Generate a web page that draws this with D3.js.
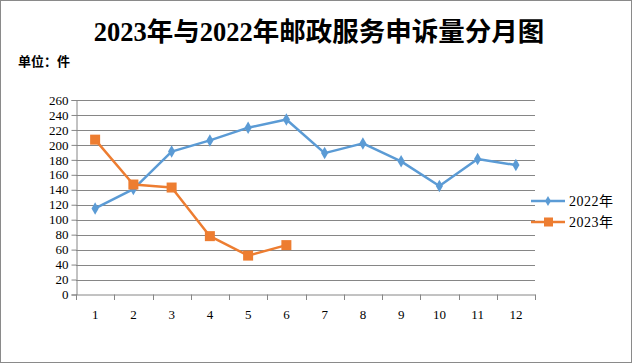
<!DOCTYPE html>
<html><head><meta charset="utf-8">
<script src="https://cdn.jsdelivr.net/npm/d3@7"></script>
<style>body{margin:0;background:#fff}</style>
</head><body>
<svg id="c" width="633" height="364"></svg>
<script>
const months = ["1","2","3","4","5","6","7","8","9","10","11","12"];
const values2022 = [115,141,191,206,223,234,189,202,178,145,181,173];
const values2023 = [207,147,143,78,52,66];
const yTicks = [0,20,40,60,80,100,120,140,160,180,200,220,240,260];
const seriesNames = ["2022年","2023年"];
const colors = ["#5B9BD5","#ED7D31"];

const svg = d3.select("#c");
const serif = "'Liberation Serif','Times New Roman','Noto Sans CJK SC',serif";
svg.append("rect").attr("x",0.5).attr("y",0.5).attr("width",631).attr("height",362)
  .attr("fill","#fff").attr("stroke","#8a8a8a");

svg.append("text").attr("x",319).attr("y",41).attr("text-anchor","middle")
  .attr("font-family",serif).attr("font-weight","bold").attr("font-size",26.5).text("2023年与2022年邮政服务申诉量分月图");
svg.append("text").attr("x",18).attr("y",66)
  .attr("font-family",serif).attr("font-weight","bold").attr("font-size",13).text("单位：件");

const x = d3.scaleBand().domain(months).range([76,535]);
const y = d3.scaleLinear().domain([0,260]).range([294.5,100]);

// gridlines
svg.append("g").selectAll("line").data(yTicks.slice(1)).join("line")
  .attr("x1",76).attr("x2",535).attr("y1",d=>Math.round(y(d))+0.5).attr("y2",d=>Math.round(y(d))+0.5)
  .attr("stroke","#868686").attr("stroke-width",1);

// y axis
const ya = svg.append("g").attr("transform","translate(76.5,0)")
  .call(d3.axisLeft(y).tickValues(yTicks).tickSize(5).tickPadding(3));
ya.select(".domain").attr("stroke","#868686");
ya.selectAll(".tick line").attr("stroke","#868686");
ya.selectAll("text").attr("font-family",serif).attr("font-size",13).attr("fill","#000");

// x axis
const xa = svg.append("g").attr("transform","translate(0,294.5)")
  .call(d3.axisBottom(x).tickSize(0).tickPadding(15));
xa.select(".domain").attr("stroke","#868686");
xa.selectAll("text").attr("font-family",serif).attr("font-size",13).attr("fill","#000");
svg.append("g").selectAll("line").data(months.concat(["end"])).join("line")
  .attr("x1",(d,i)=>Math.round(76+i*x.bandwidth())+0.5).attr("x2",(d,i)=>Math.round(76+i*x.bandwidth())+0.5)
  .attr("y1",294.5).attr("y2",300).attr("stroke","#868686");

const line = d3.line().x((d,i)=>x(months[i])+x.bandwidth()/2).y(d=>y(d));
const series = [values2022, values2023];
series.forEach((vals,si)=>{
  svg.append("path").attr("d",line(vals)).attr("fill","none").attr("stroke",colors[si]).attr("stroke-width",2.5)
    .attr("stroke-linejoin","round");
});
const diamond = d3.symbol().type(d3.symbolDiamond).size(45);
svg.append("g").selectAll("path").data(values2022).join("path")
  .attr("d",diamond).attr("fill",colors[0])
  .attr("transform",(d,i)=>`translate(${x(months[i])+x.bandwidth()/2},${y(d)})`);
svg.append("g").selectAll("rect").data(values2023).join("rect")
  .attr("x",(d,i)=>x(months[i])+x.bandwidth()/2-5).attr("y",d=>y(d)-5)
  .attr("width",10).attr("height",10).attr("fill",colors[1]);

// legend
const lg = svg.append("g");
const diamondS = d3.symbol().type(d3.symbolDiamond).size(30);
[0,1].forEach(i=>{
  const ly = 201 + i*21;
  lg.append("line").attr("x1",531).attr("x2",565).attr("y1",ly).attr("y2",ly).attr("stroke",colors[i]).attr("stroke-width",2.5);
  if(i===0) lg.append("path").attr("d",diamondS).attr("fill",colors[0]).attr("transform",`translate(548,${ly})`);
  else lg.append("rect").attr("x",544).attr("y",ly-4.5).attr("width",9).attr("height",9).attr("fill",colors[1]);
  lg.append("text").attr("x",569).attr("y",ly+5).attr("font-family",serif).attr("font-size",14).attr("letter-spacing",0.5).text(seriesNames[i]);
});
</script>
</body></html>
